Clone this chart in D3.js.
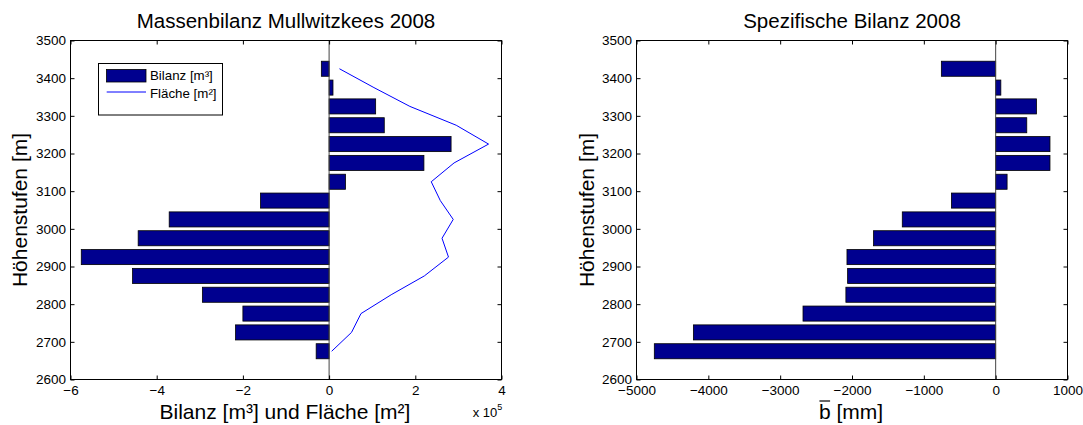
<!DOCTYPE html>
<html>
<head>
<meta charset="utf-8">
<script src="https://cdn.jsdelivr.net/npm/d3@7"></script>
<style>
  html, body { margin: 0; padding: 0; background: #fff; }
  svg { display: block; font-family: "Liberation Sans", Arial, Helvetica, sans-serif; }
</style>
</head>
<body>
<svg id="chart" width="1083" height="425"></svg>
<script>
// ---- data ----
const elevations = [2675, 2725, 2775, 2825, 2875, 2925, 2975, 3025, 3075, 3125, 3175, 3225, 3275, 3325, 3375, 3425];
const bilanz = [-30000, -217000, -200000, -294000, -456000, -575000, -443000, -371000, -159000, 38000, 220000, 283000, 128000, 108000, 9000, -18000];
const flaeche = [6000, 52000, 74000, 144000, 221000, 277000, 262000, 288000, 258000, 237000, 290000, 370000, 295000, 187500, 104000, 24000];
const spezBilanz = [-4752, -4208, -2682, -2085, -2061, -2070, -1700, -1300, -616, 159, 756, 756, 433, 568, 72, -756];

const yTicks = [2600, 2700, 2800, 2900, 3000, 3100, 3200, 3300, 3400, 3500];
const xTicksLeft = [-600000, -400000, -200000, 0, 200000, 400000];
const xTickLabelsLeft = ["\u22126", "\u22124", "\u22122", "0", "2", "4"];
const xTicksRight = [-5000, -4000, -3000, -2000, -1000, 0, 1000];
const xTickLabelsRight = ["\u22125000", "\u22124000", "\u22123000", "\u22122000", "\u22121000", "0", "1000"];

const titles = ["Massenbilanz Mullwitzkees 2008", "Spezifische Bilanz 2008"];
const yLabel = "H\u00f6henstufen [m]";
const xLabelLeft = "Bilanz [m\u00b3] und Fl\u00e4che [m\u00b2]";
const legendLabels = ["Bilanz [m\u00b3]", "Fl\u00e4che [m\u00b2]"];

const barFill = "#00008f";
const lineColor = "#0000ff";
const tickFont = 13.5;

const svg = d3.select("#chart");
svg.append("rect").attr("width", 1083).attr("height", 425).attr("fill", "#fff");

const plotTop = 40.5, plotBottom = 379.5;
const yScale = d3.scaleLinear().domain([2600, 3500]).range([plotBottom, plotTop]);

function drawPanel(left, right, xDomain, xTicks, xLabels, values, title) {
  const x = d3.scaleLinear().domain(xDomain).range([left, right]);
  const g = svg.append("g");

  // bars
  g.selectAll("rect.bar").data(values.map((v, i) => ({v, e: elevations[i]})))
    .enter().append("rect").attr("class", "bar")
    .attr("x", d => Math.min(x(0), x(d.v)))
    .attr("width", d => Math.abs(x(d.v) - x(0)))
    .attr("y", d => yScale(d.e + 20))
    .attr("height", d => yScale(d.e - 20) - yScale(d.e + 20))
    .attr("fill", barFill).attr("stroke", "#000").attr("stroke-width", 0.8);

  // baseline
  g.append("line").attr("x1", x(0)).attr("x2", x(0)).attr("y1", plotTop).attr("y2", plotBottom)
    .attr("stroke", "#444").attr("stroke-width", 1);

  // axes
  const ax = (gen, tx, ty) => {
    const a = g.append("g").attr("transform", `translate(${tx},${ty})`).call(gen);
    a.select(".domain").remove();
    a.selectAll("line").attr("stroke", "#000");
    a.selectAll("text").attr("fill", "#000").style("font-size", tickFont + "px")
      .style("font-family", '"Liberation Sans", Arial, sans-serif');
    return a;
  };
  ax(d3.axisBottom(x).tickValues(xTicks).tickFormat((d, i) => xLabels[i]).tickSizeInner(-4).tickSizeOuter(0).tickPadding(6), 0, plotBottom);
  ax(d3.axisTop(x).tickValues(xTicks).tickFormat("").tickSizeInner(-4).tickSizeOuter(0), 0, plotTop);
  ax(d3.axisLeft(yScale).tickValues(yTicks).tickFormat(d3.format("d")).tickSizeInner(-4).tickSizeOuter(0).tickPadding(4.5), left, 0);
  ax(d3.axisRight(yScale).tickValues(yTicks).tickFormat("").tickSizeInner(-4).tickSizeOuter(0), right, 0);

  // box
  g.append("rect").attr("x", left).attr("y", plotTop).attr("width", right - left).attr("height", plotBottom - plotTop)
    .attr("fill", "none").attr("stroke", "#000").attr("stroke-width", 1);

  // title
  g.append("text").attr("x", (left + right) / 2).attr("y", 28.4).attr("text-anchor", "middle")
    .style("font-size", "20.5px").attr("fill", "#000").text(title);

  return {x, g};
}

// ---- left panel ----
const L = drawPanel(70.5, 501.5, [-600000, 400000], xTicksLeft, xTickLabelsLeft, bilanz, titles[0]);

const line = d3.line().x(d => L.x(d[0])).y(d => yScale(d[1]));
L.g.append("path").datum(flaeche.map((v, i) => [v, elevations[i]]))
  .attr("d", line).attr("fill", "none").attr("stroke", lineColor).attr("stroke-width", 1);

L.g.append("text").attr("x", 285).attr("y", 419).attr("text-anchor", "middle")
  .style("font-size", "21px").attr("fill", "#000").text(xLabelLeft);

const mult = L.g.append("text").attr("x", 472.7).attr("y", 417.3).style("font-size", "13px").attr("fill", "#000");
mult.append("tspan").text("x 10");
mult.append("tspan").attr("dy", -7).style("font-size", "9px").text("5");

// legend
const lg = L.g.append("g");
lg.append("rect").attr("x", 98.5).attr("y", 63.5).attr("width", 124).attr("height", 51.5)
  .attr("fill", "#fff").attr("stroke", "#000").attr("stroke-width", 1);
lg.append("rect").attr("x", 106.5).attr("y", 69.5).attr("width", 39.5).attr("height", 12.5)
  .attr("fill", barFill).attr("stroke", "#000").attr("stroke-width", 0.8);
lg.append("line").attr("x1", 106.7).attr("x2", 146).attr("y1", 92).attr("y2", 92)
  .attr("stroke", lineColor).attr("stroke-width", 1);
lg.append("text").attr("x", 150).attr("y", 80).style("font-size", "13.3px").attr("fill", "#000").text(legendLabels[0]);
lg.append("text").attr("x", 150).attr("y", 98).style("font-size", "13.3px").attr("fill", "#000").text(legendLabels[1]);

// ---- right panel ----
const R = drawPanel(636.5, 1067.5, [-5000, 1000], xTicksRight, xTickLabelsRight, spezBilanz, titles[1]);

const xl = R.g.append("text").attr("x", 851).attr("y", 419).attr("text-anchor", "middle")
  .style("font-size", "21px").attr("fill", "#000").text("b [mm]");
const bb = xl.node().getBBox();
const bw = xl.node().getSubStringLength(0, 1);
R.g.append("line").attr("x1", bb.x + 0.5).attr("x2", bb.x + bw - 0.5).attr("y1", 401).attr("y2", 401)
  .attr("stroke", "#000").attr("stroke-width", 1.2);

// y labels
[[26.5, 210], [594, 210]].forEach(([px, py]) => {
  svg.append("text").attr("transform", `translate(${px},${py}) rotate(-90)`)
    .attr("text-anchor", "middle").style("font-size", "21px").attr("fill", "#000").text(yLabel);
});
</script>
</body>
</html>
